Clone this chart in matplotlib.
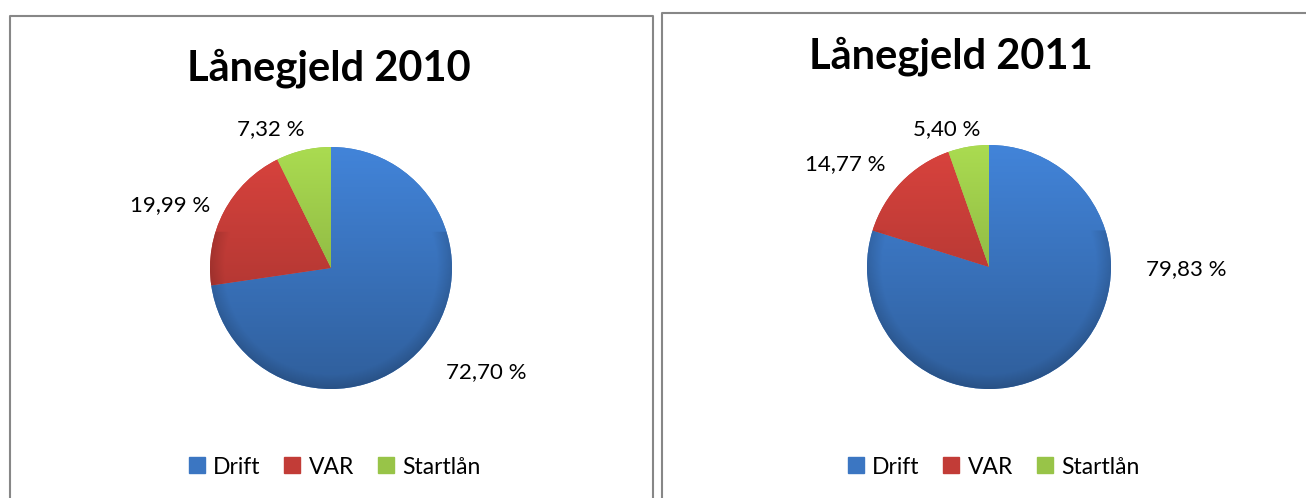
import numpy as np
import matplotlib.pyplot as plt
from matplotlib.lines import Line2D
from matplotlib.colors import to_rgb

# data
categories = ['Drift', 'VAR', 'Startlån']
shares_2010 = [72.70, 19.99, 7.32]
shares_2011 = [79.83, 14.77, 5.40]
titles = ['Lånegjeld 2010', 'Lånegjeld 2011']

colors = ['#3B76C2', '#C23C37', '#98C448']

# layout (pixels of the 1306x498 canvas)
W, H = 1306, 498
FONT = 'Lato'


def fx(px):
    return px / W


def fy(py):
    return 1 - py / H


def fmt(v):
    return f"{v:.2f}".replace('.', ',') + ' %'


def shaded_pie(cx, cy, r, values, label_pos):
    ax = fig.add_axes([fx(cx - r), fy(cy + r), 2 * r / W, 2 * r / H])
    wedges, _ = ax.pie(values, colors=colors, startangle=90, counterclock=False,
                       radius=1, wedgeprops=dict(linewidth=0))

    # simple vertical shading + darker rim, clipped to each wedge
    yy, xx = np.mgrid[-1:1:400j, -1:1:400j]
    rr = np.sqrt(xx ** 2 + yy ** 2)
    shade = 0.96 + 0.16 * yy
    rim = np.clip((rr - 0.88) / 0.12, 0, 1)
    shade = shade * (1 - 0.14 * rim * (yy < 0.3))
    for w, c in zip(wedges, colors):
        img = np.clip(np.array(to_rgb(c))[None, None, :] * shade[..., None], 0, 1)
        im = ax.imshow(img, extent=[-1, 1, -1, 1], origin='lower', zorder=2)
        im.set_clip_path(w)

    for v, (dx, dy) in zip(values, label_pos):
        ax.text(dx, dy, fmt(v), ha='center', va='center', fontsize=16,
                family=FONT, color='black', zorder=5)

    ax.set_xlim(-1, 1)
    ax.set_ylim(-1, 1)
    ax.axis('off')
    return ax


fig = plt.figure(figsize=(W / 100, H / 100), dpi=100)

# panel borders
grey = '#878787'
fig.add_artist(Line2D([fx(10), fx(10), fx(653), fx(653)], [fy(510), fy(16), fy(16), fy(510)],
                      transform=fig.transFigure, color=grey, lw=1.5))
fig.add_artist(Line2D([fx(662), fx(662), fx(1320)], [fy(510), fy(13), fy(13)],
                      transform=fig.transFigure, color=grey, lw=1.5))

# pies
shaded_pie(331, 268, 121, shares_2010, [(1.28, -0.86), (-1.33, 0.52), (-0.50, 1.15)])
shaded_pie(989, 267, 122, shares_2011, [(1.62, -0.02), (-1.18, 0.84), (-0.35, 1.13)])

# titles
fig.text(fx(329), fy(81), titles[0], ha='center', va='baseline', fontsize=30,
         fontweight='bold', family=FONT)
fig.text(fx(951), fy(68), titles[1], ha='center', va='baseline', fontsize=30,
         fontweight='bold', family=FONT)

# legends
handles = [Line2D([], [], marker='s', linestyle='none', markersize=12,
                  markerfacecolor=c, markeredgecolor=c) for c in colors]
for cx, cy in [(334, 467), (993, 467)]:
    fig.legend(handles, categories, loc='center', bbox_to_anchor=(fx(cx), fy(cy)),
               ncol=3, frameon=False, handlelength=0.8, handletextpad=0.3,
               columnspacing=1.0, prop=dict(family=FONT, size=16.5))

fig.savefig('out.png', dpi=100)
